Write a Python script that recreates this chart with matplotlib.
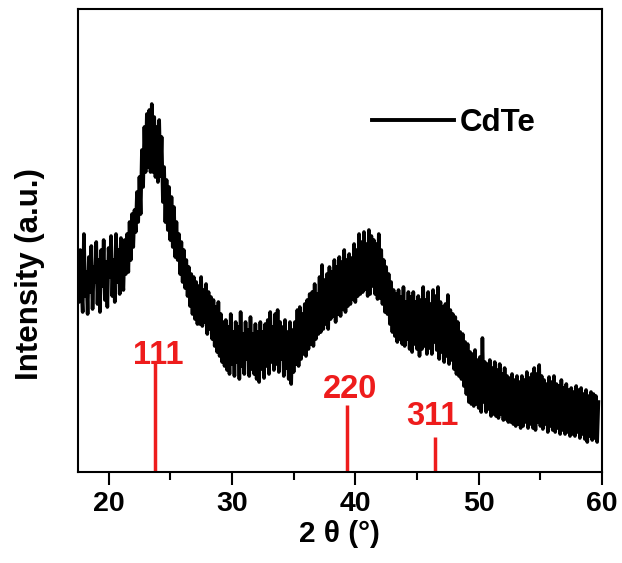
import numpy as np
import matplotlib
matplotlib.use("Agg")
import matplotlib.pyplot as plt

# =========================
# DATA
# =========================
two_theta_start = 17.5
two_theta_step = 0.1

# one row = 1 degree (10 points)
intensity = [
    205, 170, 222, 185, 160, 238, 176, 200, 158, 215,   # 17.5
    180, 226, 163, 205, 190, 230, 168, 212, 160, 222,   # 18.5
    186, 232, 172, 210, 165, 224, 195, 236, 176, 212,   # 19.5
    170, 238, 190, 222, 178, 234, 196, 182, 232, 198,   # 20.5
    238, 200, 250, 212, 258, 225, 262, 240, 280, 250,   # 21.5
    295, 258, 322, 285, 345, 300, 358, 305, 362, 300,   # 22.5
    368, 300, 355, 295, 345, 290, 352, 296, 335, 270,   # 23.5
    305, 250, 292, 242, 285, 232, 275, 225, 265, 215,   # 24.5
    250, 212, 238, 198, 230, 190, 222, 184, 212, 176,   # 25.5
    205, 166, 198, 158, 195, 153, 190, 148, 186, 148,   # 26.5
    195, 146, 182, 150, 188, 138, 180, 143, 175, 133,   # 27.5
    172, 126, 165, 120, 170, 116, 158, 110, 150, 106,   # 28.5
    152, 102, 145, 98, 158, 108, 140, 96, 150, 110,     # 29.5
    145, 93, 160, 106, 138, 98, 150, 113, 142, 96,      # 30.5
    155, 103, 138, 98, 148, 93, 140, 90, 150, 103,      # 31.5
    140, 94, 148, 106, 152, 98, 160, 110, 145, 102,     # 32.5
    158, 108, 162, 100, 150, 113, 145, 96, 152, 104,    # 33.5
    140, 93, 150, 88, 142, 100, 150, 108, 162, 106,     # 34.5
    165, 113, 158, 118, 168, 116, 172, 123, 178, 128,   # 35.5
    180, 126, 188, 133, 178, 138, 195, 140, 207, 143,   # 36.5
    192, 148, 198, 143, 205, 153, 200, 156, 212, 150,   # 37.5
    205, 158, 215, 156, 210, 163, 222, 160, 212, 166,   # 38.5
    218, 168, 214, 173, 228, 170, 222, 176, 238, 178,   # 39.5
    230, 180, 240, 183, 228, 176, 242, 178, 236, 186,   # 40.5
    232, 178, 228, 173, 238, 174, 222, 168, 212, 160,   # 41.5
    205, 158, 198, 148, 190, 140, 182, 136, 178, 130,   # 42.5
    182, 133, 175, 128, 185, 126, 170, 133, 180, 123,   # 43.5
    175, 120, 180, 128, 170, 123, 176, 116, 172, 123,   # 44.5
    185, 126, 172, 118, 180, 124, 168, 118, 182, 130,   # 45.5
    176, 122, 185, 113, 170, 120, 165, 110, 168, 116,   # 46.5
    177, 108, 162, 112, 158, 103, 155, 98, 150, 96,     # 47.5
    140, 93, 138, 86, 130, 78, 128, 70, 120, 68,        # 48.5
    118, 66, 122, 68, 112, 64, 115, 60, 134, 70,        # 49.5
    110, 60, 108, 63, 112, 56, 104, 58, 110, 56,        # 50.5
    102, 54, 108, 58, 98, 52, 104, 53, 96, 50,          # 51.5
    94, 50, 98, 48, 92, 46, 96, 48, 90, 44,             # 52.5
    96, 46, 92, 50, 100, 44, 94, 48, 98, 44,            # 53.5
    104, 42, 98, 50, 107, 46, 96, 43, 92, 48,           # 54.5
    88, 40, 95, 46, 90, 42, 96, 40, 88, 44,             # 55.5
    86, 38, 92, 42, 84, 38, 88, 40, 82, 36,             # 56.5
    84, 38, 80, 36, 86, 40, 82, 34, 84, 38,             # 57.5
    78, 33, 82, 30, 76, 36, 80, 32, 78, 34,             # 58.5
    76, 30, 70,                                         # 59.5
]
two_theta = two_theta_start + two_theta_step * np.arange(len(intensity))

peak_labels = ["111", "220", "311"]
peak_pos = [23.76, 39.31, 46.43]
peak_height = [109, 67, 35]
label_pos = [24.0, 39.6, 46.25]
label_y = [108, 74, 47]

# =========================
# STYLE
# =========================
plt.rcParams["font.family"] = ["Liberation Sans", "DejaVu Sans"]
plt.rcParams["font.weight"] = "bold"

fig = plt.figure(figsize=(6.22, 5.63), dpi=100)
ax = fig.add_axes([0.125, 0.1616, 0.843, 0.8224])

ax.plot(two_theta, intensity, color="black", lw=2.6, label="CdTe")

for lab, x, h, lx, ly in zip(peak_labels, peak_pos, peak_height, label_pos, label_y):
    ax.vlines(x, 0, h, color="#ee1c1c", lw=2.5)
    ax.text(lx, ly, lab, color="#ee1c1c", fontsize=23.5, fontweight="bold",
            ha="center", va="baseline")

ax.set_xlim(17.5, 60)
ax.set_ylim(0, 463)
ax.set_xticks([20, 30, 40, 50, 60])
ax.set_xticks([25, 35, 45, 55], minor=True)
ax.set_yticks([])
ax.tick_params(axis="x", which="major", direction="out", length=9.5, width=1.5,
               labelsize=20.5, pad=4)
ax.tick_params(axis="x", which="minor", direction="out", length=6, width=1.5)
for sp in ax.spines.values():
    sp.set_linewidth(1.5)

ax.set_xlabel("2 θ (°)", fontsize=21.5, fontweight="bold", labelpad=2)
fig.text(30 / 622, 1 - 274 / 563, "Intensity (a.u.)", rotation=90,
         fontsize=22.5, fontweight="bold", ha="center", va="center")

leg = ax.legend(loc="center left", bbox_to_anchor=(0.5607, 0.7538),
                frameon=False, fontsize=22.5, handlelength=2.63,
                handletextpad=0.2, borderpad=0, borderaxespad=0)
for line in leg.get_lines():
    line.set_linewidth(2.8)

plt.savefig("out.png", dpi=100)
